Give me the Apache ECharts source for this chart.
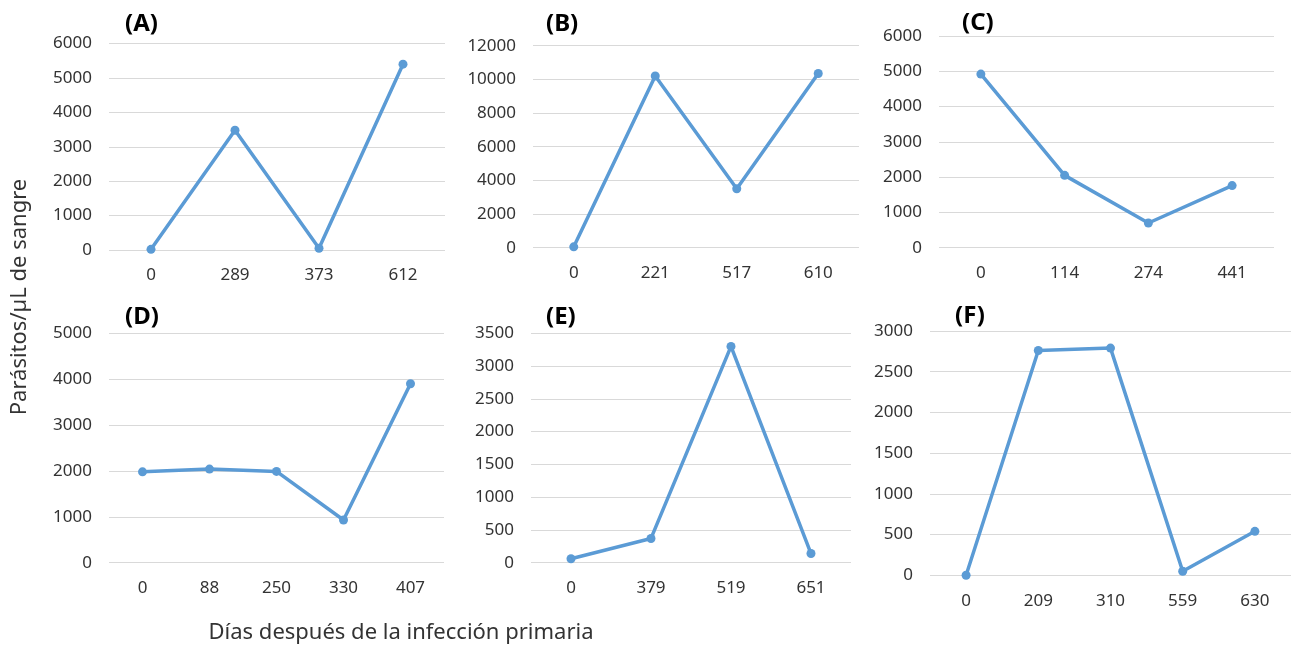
<!DOCTYPE html>
<html><head><meta charset="utf-8">
<script src="https://cdn.jsdelivr.net/npm/echarts@6/dist/echarts.min.js"></script>
<style>html,body{margin:0;padding:0;background:#fff}#c{width:1300px;height:648px}</style>
</head><body><div id="c"></div>
<script>
const daysA = ['0','289','373','612'];
const valsA = [20, 3480, 50, 5400];
const daysB = ['0','221','517','610'];
const valsB = [50, 10200, 3500, 10350];
const daysC = ['0','114','274','441'];
const valsC = [4920, 2050, 700, 1760];
const daysD = ['0','88','250','330','407'];
const valsD = [1980, 2040, 1990, 930, 3900];
const daysE = ['0','379','519','651'];
const valsE = [60, 370, 3300, 140];
const daysF = ['0','209','310','559','630'];
const valsF = [0, 2760, 2790, 50, 540];
const panelLabels = ['(A)','(B)','(C)','(D)','(E)','(F)'];
const yMax = [6000, 12000, 6000, 5000, 3500, 3000];
const yStep = [1000, 2000, 1000, 1000, 500, 500];
const yTitle = 'Parásitos/µL de sangre';
const xTitle = 'Días después de la infección primaria';

const cats = [daysA, daysB, daysC, daysD, daysE, daysF];
const vals = [valsA, valsB, valsC, valsD, valsE, valsF];
const grids = [
  {left:109, top:43.5, width:336, height:206.5},
  {left:533, top:45.7, width:326, height:202},
  {left:939, top:36, width:335, height:211.7},
  {left:109, top:333.3, width:335, height:229.4},
  {left:531, top:333.3, width:320, height:229.4},
  {left:930, top:331, width:361, height:244.3}
];
const labelPos = [[125,27],[546,27],[962,26],[125,320],[546,320],[955,319]];
const font = 'Noto Sans';
const txt = '#333333';
const chart = echarts.init(document.getElementById('c'));
const opt = {
  animation:false,
  backgroundColor:'#fff',
  grid: grids.map(g => Object.assign({containLabel:false}, g)),
  xAxis: cats.map((c,i)=>({
    type:'category', gridIndex:i, data:c, boundaryGap:true,
    axisLine:{show:false}, axisTick:{show:false},
    axisLabel:{color:txt, fontFamily:font, fontSize:17, margin:17}
  })),
  yAxis: yMax.map((m,i)=>({
    type:'value', gridIndex:i, min:0, max:m, interval:yStep[i],
    axisLine:{show:false}, axisTick:{show:false},
    splitLine:{lineStyle:{color:'#d9d9d9', width:1.2}},
    axisLabel:{color:txt, fontFamily:font, fontSize:17, margin:17, formatter:v=>String(v)}
  })),
  series: vals.map((v,i)=>({
    type:'line', xAxisIndex:i, yAxisIndex:i, data:v,
    symbol:'circle', symbolSize:9,
    lineStyle:{color:'#5b9bd5', width:3.5},
    itemStyle:{color:'#5b9bd5'}
  })),
  graphic: panelLabels.map((t,i)=>({
    type:'text', left:labelPos[i][0], top:labelPos[i][1]-15,
    style:{text:t, font:'bold 24px "Noto Sans"', fill:'#000'}
  })).concat([
    {type:'text', x:20, y:297, rotation:Math.PI/2,
     style:{text:yTitle, font:'22px "Noto Sans"', fill:txt, align:'center', verticalAlign:'middle'}},
    {type:'text', x:401, y:633,
     style:{text:xTitle, font:'22px "Noto Sans"', fill:txt, align:'center', verticalAlign:'middle'}}
  ])
};
chart.setOption(opt);
</script></body></html>
